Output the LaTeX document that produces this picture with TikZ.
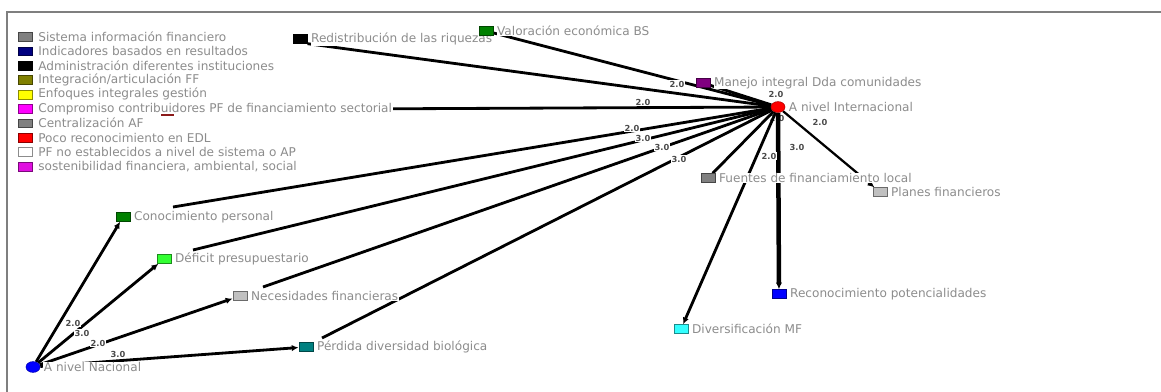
\documentclass[tikz,border=0pt]{standalone}
\usepackage{fontspec}
\setmainfont{DejaVu Sans}
\usepackage{tikz}
\usetikzlibrary{shapes.geometric, arrows.meta, backgrounds}

\definecolor{txtgris}{HTML}{8C8C8C}
\definecolor{pesogris}{HTML}{4A4A4A}
\definecolor{marco}{HTML}{7F7F7F}
\definecolor{gris}{HTML}{808080}
\definecolor{grisclaro}{HTML}{C0C0C0}
\definecolor{marino}{HTML}{000080}
\definecolor{oliva}{HTML}{808000}
\definecolor{amarillo}{HTML}{FFFF00}
\definecolor{fucsia}{HTML}{FF00FF}
\definecolor{fucsiab}{HTML}{E010E0}
\definecolor{rojo}{HTML}{FF0000}
\definecolor{rojooscuro}{HTML}{8B1A1A}
\definecolor{verdeo}{HTML}{008000}
\definecolor{verdec}{HTML}{33FF33}
\definecolor{morado}{HTML}{800080}
\definecolor{azul}{HTML}{0000FF}
\definecolor{cian}{HTML}{33FFFF}
\definecolor{azulverde}{HTML}{008080}

\begin{document}
\begin{tikzpicture}[x=0.025cm, y=-0.025cm,
    sq/.style={rectangle, fill=#1, draw=#1!55!black, line width=0.4pt,
      minimum width=0.36cm, minimum height=0.22cm, inner sep=0pt},
    nivel/.style={ellipse, fill=#1, draw=#1!70!black, line width=0.4pt,
      minimum width=0.35cm, minimum height=0.27cm, inner sep=0pt},
    lab/.style={text=txtgris, font=\fontsize{8.6}{10}\selectfont,
      fill=white, inner sep=0.4pt},
    peso/.style={text=pesogris, font=\fontsize{5.9}{7}\selectfont\bfseries,
      fill=white, inner sep=0.3pt},
    arista/.style={line width=2pt},
    flecha/.style={arista, -{Latex[length=0.17cm, width=0.16cm]}},
    label distance=0.07cm]
  \useasboundingbox (0,0) rectangle (1161,392);

  % Marco
  \draw[marco, line width=1.2pt] (7,392) -- (7,12) -- (1161,12);

  % Leyenda
  \foreach \col/\txt [count=\i] in {gris/{Sistema información financiero},
      marino/{Indicadores basados en resultados},
      black/{Administración diferentes instituciones},
      oliva/{Integración/articulación FF},
      amarillo/{Enfoques integrales gestión},
      fucsia/{Compromiso contribuidores PF de financiamiento sectorial},
      gris/{Centralización AF},
      rojo/{Poco reconocimiento en EDL},
      white/{PF no establecidos a nivel de sistema o AP},
      fucsiab/{sostenibilidad financiera, ambiental, social}} {
    \node[sq=\col] (ley\i) at (25.5,{22.4+14.4*\i}) {};
    \node[lab, anchor=west] (leyt\i) at (37.5,{22.4+14.4*\i}) {\txt};
  }
  \draw[rojooscuro, line width=1.2pt] (161,115) -- (174,115);

  % Niveles
  \node[nivel=rojo, label={[lab]right:A nivel Internacional}] (int) at (778,107) {};
  \node[nivel=azul, label={[lab]right:A nivel Nacional}] (nac) at (33,367) {};

  % Nodos
  \node[sq=black, label={[lab]right:Redistribución de las riquezas}] (red) at (300,39) {};
  \node[sq=verdeo, label={[lab]right:Valoración económica BS}] (val) at (486,31) {};
  \node[sq=morado, label={[lab]right:Manejo integral Dda comunidades}] (man) at (703,83) {};
  \node[sq=gris, label={[lab]right:Fuentes de financiamiento local}] (fue) at (708,178) {};
  \node[sq=grisclaro, label={[lab]right:Planes financieros}] (pla) at (880,192) {};
  \node[sq=azul, label={[lab]right:Reconocimiento potencialidades}] (rec) at (779,294) {};
  \node[sq=cian, label={[lab]right:Diversificación MF}] (div) at (681,329) {};
  \node[sq=verdeo, label={[lab]right:Conocimiento personal}] (con) at (123,217) {};
  \node[sq=verdec, label={[lab]right:Déficit presupuestario}] (def) at (164,259) {};
  \node[sq=grisclaro, label={[lab]right:Necesidades financieras}] (nec) at (240,296) {};
  \node[sq=azulverde, label={[lab]right:Pérdida diversidad biológica}] (per) at (306,347) {};

  \coordinate (conE) at (173,207);
  \coordinate (defE) at (193,250);
  \coordinate (necE) at (263,287);
  \coordinate (perE) at (322,338);

  % Aristas
  \begin{pgfonlayer}{background}
    \node[peso, fill=none] (w0) at (777,118) {2.0};
    \draw[arista] (red.south east) -- (int);
    \draw[arista] (val) -- (int);
    \draw[arista] (man) -- (int);
    \draw[arista] (leyt6.east) -- (int);
    \draw[arista] (int) -- (conE);
    \draw[arista] (int) -- (defE);
    \draw[arista] (int) -- (necE);
    \draw[arista] (int) -- (perE);
    \draw[arista] (int) -- (fue);
    \draw[flecha] (int) -- (div);
    \draw[flecha, line width=3.2pt] (int) -- (rec);
    \draw[flecha, line width=1.6pt] (int) -- (pla);
    \draw[flecha] (nac) -- (con);
    \draw[flecha] (nac) -- (def);
    \draw[flecha] (nac) -- (nec);
    \draw[flecha] (nac) -- (per);
  \end{pgfonlayer}

  % Pesos
  \foreach \x/\y/\v [count=\i] in {677/84/2.0, 776/94/2.0, 643/102/2.0,
      632/128/2.0, 643/138/3.0, 662/147/3.0, 679/159/3.0, 820/122/2.0,
      797/147/3.0, 769/156/2.0, 73/323/2.0, 82/333/3.0, 98/343/2.0,
      118/354/3.0} {
    \node[peso] (w\i) at (\x,\y) {\v};
  }
\end{tikzpicture}
\end{document}
